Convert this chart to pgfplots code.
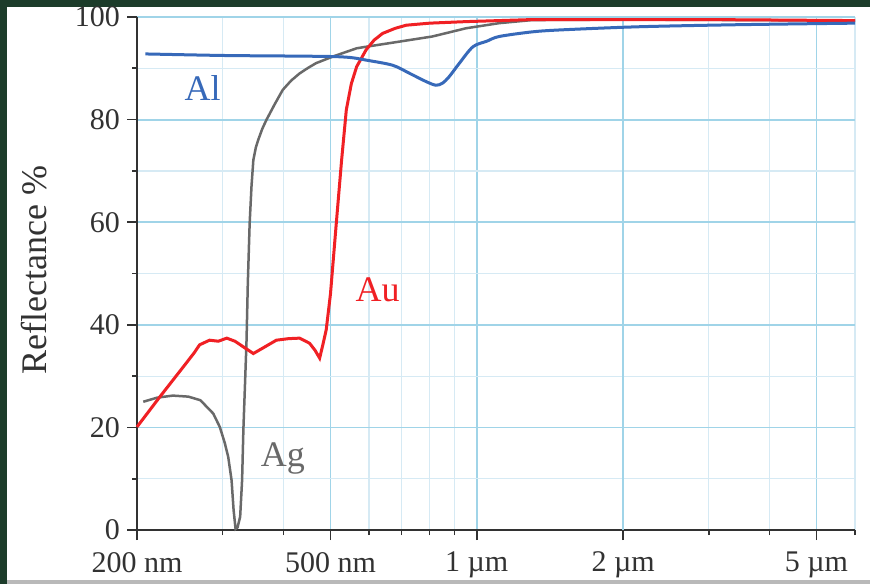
\documentclass[border=0pt]{standalone}
\usepackage{pgfplots}
\pgfplotsset{compat=1.18}
\usepackage{fontspec}
\setmainfont{Liberation Serif}

\definecolor{framegreen}{RGB}{28,60,42}
\definecolor{alblue}{RGB}{55,105,185}
\definecolor{aured}{RGB}{240,32,36}
\definecolor{aggray}{RGB}{105,105,105}
\definecolor{gridmaj}{RGB}{160,212,232}
\definecolor{gridmin}{RGB}{214,234,244}
\definecolor{axiscol}{RGB}{50,50,50}

\begin{document}
\begin{tikzpicture}
% frame of the picture (1 px = 0.5 pt, origin at the axis corner)
\fill[framegreen] (-68.5pt,-27pt) rectangle (366.5pt,265pt);
\fill[gray!55] (-65pt,-27pt) rectangle (366.5pt,-24pt);
\fill[white] (-65pt,-25pt) rectangle (366.5pt,261.5pt);
\begin{axis}[
    at={(0,0)}, anchor=south west,
    scale only axis, width=359pt, height=256.5pt,
    xmode=log, xmin=200, xmax=6000, ymin=0, ymax=100,
    axis lines=left, axis line style={-, color=axiscol, line width=0.9pt},
    xtick={200,500,1000,5000},
    xticklabels={200 nm, 500 nm, 1 µm, 5 µm},
    extra x ticks={2000}, extra x tick labels={2 µm},
    extra x tick style={grid style={color=gridmin, line width=0.6pt}},
    minor xtick={300,400,600,700,800,900,3000,4000,6000},
    ytick={0,20,...,100}, minor ytick={10,30,...,90},
    grid=both,
    major grid style={color=gridmaj, line width=0.9pt},
    minor grid style={color=gridmin, line width=0.6pt},
    tick align=outside, major tick length=5pt, minor tick length=2.5pt,
    tick style={color=axiscol, line width=0.8pt},
    tick label style={font=\fontsize{15}{18}\selectfont, text=axiscol},
    xticklabel style={yshift=-2.5pt},
    /pgf/number format/assume math mode=true,
    ylabel={Reflectance \%},
    ylabel style={at={(axis description cs:-0.143,0.507)}, anchor=center,
        font=\fontsize{18}{21}\selectfont, text=axiscol},
    clip=false,
]
% Ag
\addplot[aggray, line width=1.25pt] coordinates {
(206,25.0) (220,25.8) (237,26.2) (255,26.0) (270,25.3) (287,22.7) (296,20.1)
(303,17) (308,14.3) (313,9.7) (316,3.9) (319,0.2) (322,0.5) (326,2.6) (329,9.7)
(331,19.5) (334,30) (336,37) (338,48) (341,59.8) (344,67) (347,72.1) (351,74.5)
(355,76) (362,78.2) (369,79.9) (384,83) (399,85.8) (415,87.6) (432,89) (450,90.1)
(467,91) (506,92.3) (566,93.9) (592,94.2) (693,95.2) (810,96.2) (950,97.8)
(1112,98.8) (1300,99.4) (2000,99.5) (6000,99.3)
};
% Au
\addplot[aured, line width=1.5pt] coordinates {
(200,20.1) (223,26) (249,31.8) (262,34.5) (269,36.1) (282,37) (294,36.8) (306,37.4)
(318,36.8) (331,35.7) (347,34.4) (365,35.6) (387,37) (410,37.3) (432,37.4)
(453,36.4) (465,35) (475,33.5) (482,36) (490,39) (500,46) (514,59.8) (527,72)
(539,81.9) (552,87) (566,90.3) (592,93.6) (615,95.5) (640,96.8) (680,97.8)
(716,98.4) (800,98.8) (950,99.1) (1300,99.5) (3000,99.5) (6000,99.3)
};
% Al
\addplot[alblue, line width=1.5pt, smooth] coordinates {
(208,92.8) (300,92.5) (400,92.4) (500,92.3) (550,92.1) (592,91.6) (671,90.6)
(728,89) (787,87.4) (824,86.7) (850,87.1) (878,88.4) (921,91) (982,94.2)
(1050,95.3) (1112,96.2) (1300,97.1) (1500,97.5) (2160,98.1) (3460,98.5) (6000,98.8)
};
\node[text=alblue, font=\fontsize{18}{21}\selectfont] at (axis cs:273,86.2) {Al};
\node[text=aured, font=\fontsize{18}{21}\selectfont] at (axis cs:625,46.8) {Au};
\node[text=aggray, font=\fontsize{18}{21}\selectfont] at (axis cs:399,14.0) {Ag};
\end{axis}
\end{tikzpicture}
\end{document}
